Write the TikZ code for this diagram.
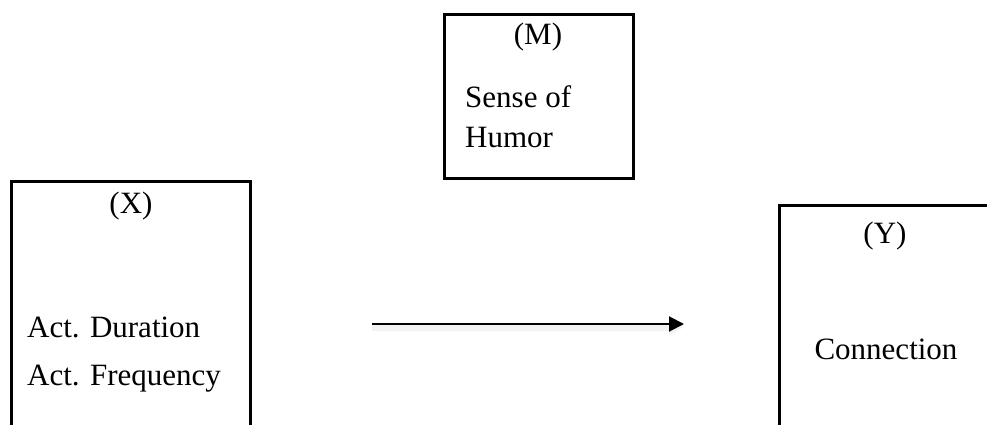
\documentclass[tikz,border=0pt]{standalone}
\usepackage{fontspec}
\setmainfont{Liberation Serif}
\usetikzlibrary{arrows.meta}
\begin{document}
\begin{tikzpicture}[x=1pt,y=-1pt,box/.style={draw=black,line width=3pt,outer sep=0pt,inner sep=0pt,anchor=north west},txt/.style={font=\fontsize{31}{37}\selectfont,inner sep=0pt},arr/.style={-{Triangle[length=15pt,width=15pt]},draw=black,line width=2pt,preaction={draw=black!5,line width=7pt,transform canvas={yshift=-3pt}}}]
\useasboundingbox (0,0) rectangle (987,425);
\node[box,minimum width=189pt,minimum height=163pt] (mbox) at (444,15) {};
\node[box,minimum width=239pt,minimum height=300pt] (xbox) at (11.5,181.5) {};
\node[box,minimum width=260pt,minimum height=260pt] (ybox) at (779,205) {};
\node[txt,anchor=base] (mlab) at (538,45) {(M)};
\node[txt,anchor=base west] (sense) at (465,107) {Sense of};
\node[txt,anchor=base west] (humor) at (465,147) {Humor};
\node[txt,anchor=base] (xlab) at (131,213) {(X)};
\node[txt,anchor=base west] (dur) at (27,337) {Act. Duration};
\node[txt,anchor=base west] (freq) at (27,385) {Act. Frequency};
\node[txt,anchor=base] (ylab) at (885,243) {(Y)};
\node[txt,anchor=base] (conn) at (886,359) {Connection};
\coordinate (from) at (372,324);\coordinate (to) at (684,324);
\draw[arr](from)--(to);
\end{tikzpicture}
\end{document}
